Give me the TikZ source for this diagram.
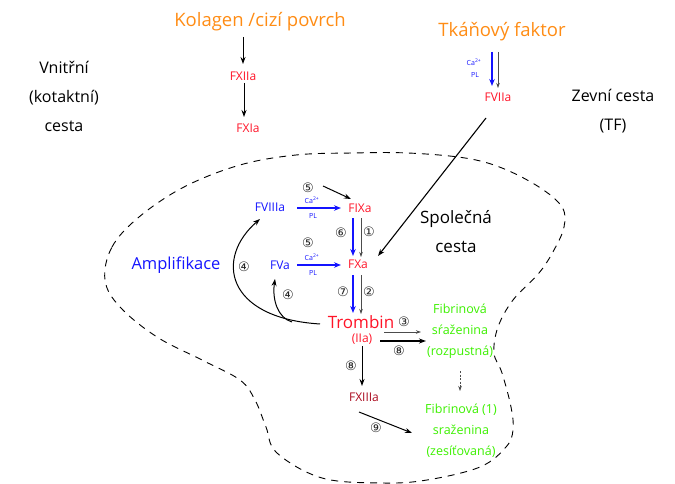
\documentclass[tikz,border=0pt]{standalone}
\usepackage{fontspec}
\setmainfont{Open Sans}
\newfontfamily\symf{DejaVu Sans}
\usetikzlibrary{arrows.meta}
\definecolor{orng}{RGB}{255,140,20}
\definecolor{fred}{RGB}{255,20,40}
\definecolor{fblue}{RGB}{20,20,255}
\definecolor{fgreen}{RGB}{60,240,0}
\definecolor{dred}{RGB}{170,10,30}
\tikzset{
  ttl/.style={text=orng, font=\fontsize{18.5}{20}\selectfont, inner sep=1pt},
  blk/.style={text=black, font=\fontsize{16}{29}\selectfont, align=center, inner sep=1pt},
  fac/.style={text=fred, font=\fontsize{12}{12}\selectfont, inner sep=1pt},
  bfac/.style={text=fblue, font=\fontsize{12}{12}\selectfont, inner sep=1pt},
  grn/.style={text=fgreen, font=\fontsize{12.5}{21}\selectfont, align=center, inner sep=1pt},
  cn/.style={text=black!85, font=\symf\fontsize{13}{13}\selectfont, inner sep=0pt},
  tiny/.style={text=fblue, font=\fontsize{7}{7}\selectfont, inner sep=0pt},
  arr/.style={-{Stealth[length=7pt,width=5pt]}, line width=1pt},
  barr/.style={fblue, line width=1.4pt, -{Stealth[length=7pt,width=5.5pt]}},
  tarr/.style={black!70, line width=0.6pt, -{Stealth[length=5pt,width=3.5pt]}},
}
\begin{document}
\begin{tikzpicture}[x=1pt,y=-1pt]
\useasboundingbox (0,0) rectangle (675,484);
% dashed region
\draw[line width=0.9pt, dash pattern=on 7pt off 6pt]
  plot[smooth cycle, tension=0.6] coordinates {
  (105,280) (112,247) (139,217) (184,187) (240,165) (296,155) (352,153)
  (408,153) (465,158) (502,168) (539,187) (562,207) (564,227) (554,250)
  (539,273) (513,300) (498,327) (494,353) (502,373) (511,407) (513,430)
  (506,447) (480,467) (427,480) (382,483) (322,478) (277,453) (266,427)
  (255,400) (240,380) (202,360) (157,337) (120,307)};

% top left: intrinsic
\node[ttl] (kol) at (260,22) {Kolagen /cizí povrch};
\node[fac] (f12) at (243,76) {FXIIa};
\node[fac] (f11) at (248,128) {FXIa};
\coordinate (k1) at (243,37);
\coordinate (k2) at (243,64);
\coordinate (k3) at (244,83);
\coordinate (k4) at (244,117);
\draw[arr] (k1) -- (k2);
\draw[arr] (k3) -- (k4);

\node[blk] (vn) at (64,96) {Vnitřní\\(kotaktní)\\cesta};
\node[blk] (zv) at (613,111) {Zevní cesta\\(TF)};

% top right: extrinsic
\node[ttl] (tf) at (502,32) {Tkáňový faktor};
\node[fac] (f7) at (498,97) {FVIIa};
\coordinate (t1) at (492,52);
\coordinate (t2) at (492,86);
\coordinate (t3) at (498,52);
\coordinate (t4) at (498,88);
\draw[barr] (t1) -- (t2);
\draw[tarr] (t3) -- (t4);
\node[tiny] (ca0) at (474,62) {Ca\textsuperscript{2+}};
\node[tiny] (pl0) at (475,75) {PL};

% inner nodes
\node[bfac] (f8) at (270,207) {FVIIIa};
\node[fac] (f9) at (360,208) {FIXa};
\node[bfac] (f5) at (280,265) {FVa};
\node[fac] (fxa) at (358,264) {FXa};
\node[text=fred, font=\fontsize{17}{18}\selectfont, inner sep=1pt] (tro) at (361,322) {Trombin};
\node[text=fred, font=\fontsize{12}{12}\selectfont, inner sep=1pt] (iia) at (362,339) {(IIa)};
\node[text=dred, font=\fontsize{12}{12}\selectfont, inner sep=1pt] (f13) at (364,397) {FXIIIa};
\node[grn] (fib1) at (460,331) {Fibrinová\\sŕaženina\\(rozpustná)};
\node[grn] (fib2) at (461,431) {Fibrinová (1)\\sraženina\\(zesíťovaná)};
\node[text=fblue, font=\fontsize{16.5}{18}\selectfont, inner sep=1pt] (amp) at (176,265) {Amplifikace};
\node[blk, font=\fontsize{17}{29}\selectfont] (spol) at (456,232) {Společná\\cesta};

% extrinsic to FXa
\coordinate (lt) at (486,118);
\coordinate (lx) at (378,256);
\draw[arr, line width=1.1pt] (lt) -- (lx);

% FVIIIa -> FIXa
\node[cn] (c5a) at (308,188) {⑤};
\coordinate (c5s) at (323,186);
\coordinate (c5e) at (351,199);
\draw[arr] (c5s) -- (c5e);
\coordinate (h1) at (297,208);
\coordinate (h2) at (341,208);
\draw[barr, line width=1.1pt] (h1) -- (h2);
\node[tiny] (ca1) at (312,200) {Ca\textsuperscript{2+}};
\node[tiny] (pl1) at (313,216) {PL};

% FVa -> FXa
\node[cn] (c5b) at (308,243) {⑤};
\coordinate (h3) at (297,265);
\coordinate (h4) at (341,265);
\draw[barr, line width=1.1pt] (h3) -- (h4);
\node[tiny] (ca2) at (312,257) {Ca\textsuperscript{2+}};
\node[tiny] (pl2) at (313,273) {PL};

% FIXa -> FXa
\coordinate (v1) at (353,218);
\coordinate (v2) at (353,256);
\coordinate (v3) at (361,218);
\coordinate (v4) at (361,257);
\draw[barr] (v1) -- (v2);
\draw[tarr] (v3) -- (v4);
\node[cn] (c6) at (341,233) {⑥};
\node[cn] (c1) at (369,232) {①};

% FXa -> Trombin
\coordinate (v5) at (353,275);
\coordinate (v6) at (353,313);
\coordinate (v7) at (361,275);
\coordinate (v8) at (361,314);
\draw[barr] (v5) -- (v6);
\draw[tarr] (v7) -- (v8);
\node[cn] (c7) at (343,292) {⑦};
\node[cn] (c2) at (369,292) {②};

% Trombin -> fibrin
\node[cn] (c3) at (404,322) {③};
\coordinate (r1) at (384,332);
\coordinate (r2) at (421,332);
\coordinate (r3) at (380,341);
\coordinate (r4) at (426,341);
\draw[tarr, line width=0.7pt] (r1) -- (r2);
\draw[arr, line width=1.3pt] (r3) -- (r4);
\node[cn] (c8a) at (399,351) {⑧};

% Trombin -> FXIIIa
\coordinate (d1) at (362,346);
\coordinate (d2) at (362,386);
\draw[arr] (d1) -- (d2);
\node[cn] (c8b) at (351,366) {⑧};

% FXIIIa -> fibrin 2
\coordinate (e1) at (359,412);
\coordinate (e2) at (412,433);
\draw[arr] (e1) -- (e2);
\node[cn] (c9) at (376,428) {⑨};

% soluble -> cross-linked
\coordinate (s1) at (460,371);
\coordinate (s2) at (460,391);
\draw[tarr, dash pattern=on 2pt off 1.5pt] (s1) -- (s2);

% amplification feedback
\coordinate (tw) at (320,324);
\coordinate (a1) at (260,219);
\coordinate (a2) at (292,322);
\coordinate (a3) at (275,279);
\draw[arr] (tw) .. controls (225,318) and (215,258) .. (a1);
\draw[arr] (a2) .. controls (278,318) and (272,300) .. (a3);
\node[cn] (c4a) at (244,267) {④};
\node[cn] (c4b) at (288,295) {④};
\end{tikzpicture}
\end{document}
